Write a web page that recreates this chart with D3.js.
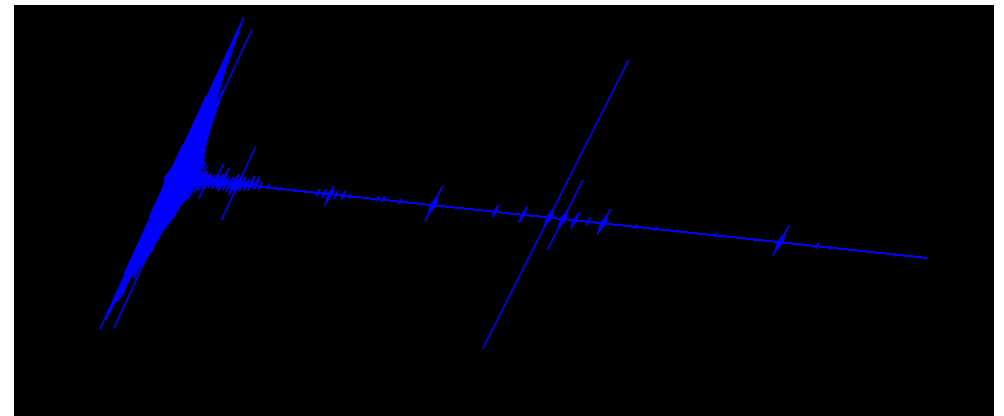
<!DOCTYPE html>
<html>
<head>
<meta charset="utf-8">
<script src="https://cdn.jsdelivr.net/npm/d3@7"></script>
<style>
  body { margin: 0; background: #fff; }
</style>
</head>
<body>
<div id="container"></div>
<script>
// spectrum bins along the baseline, levels above / below it
var bins = [3, 4, 5, 6, 7, 8, 9, 10, 11, 12, 13, 14, 15, 16, 17, 18, 19, 20, 21, 22,
            23, 24, 25, 26, 27, 28, 29, 30, 32, 35, 38, 42, 46, 50, 54, 57, 61, 65, 69, 73,
            77, 81, 85, 90, 95, 103, 115, 130, 153, 159, 165, 171, 178, 185, 212, 218, 235, 268, 330, 358,
            384, 398, 410, 423, 438, 470, 490, 512, 550, 590, 615, 652, 665, 730];
var upLevels = [20, 50, 99, 95, 90, 84, 78, 72, 66, 62, 58, 54, 50, 46, 55, 92, 48, 42, 37, 33,
                29, 25, 22, 19, 17, 15, 14, 12, 11, 9, 6, 5, 4, 11, 5, 9, 4, 4, 6, 23,
                5, 4, 6, 6, 2.5, 2, 1, 1, 2.5, 2.5, 5, 2.5, 3, 1.5, 2, 2, 1.5, 12, 4, 5,
                97, 24, 5, 2.5, 9, 1.5, 1.5, 1, 1.5, 1, 10.5, 2, 1, 1];
var downLevels = [25, 60, 94, 88, 84, 78, 72, 76, 74, 62, 57, 60, 62, 52, 55, 92, 48, 46, 38, 32,
                  30, 28, 26, 24, 19, 16, 14, 12, 12, 8, 6, 11, 4, 4, 4, 5, 4, 5, 7, 22,
                  4, 3, 3, 2, 2, 1, 1, 1, 2, 2.5, 7, 2.5, 2.5, 1.5, 1, 1, 1.5, 10, 3, 5,
                  81, 19, 5, 2, 7, 1, 1, 1, 1, 1, 8.5, 1.5, 1, 1];
var binRange = [0, 762];

var width = 1004,
    height = 416,
    svg, x, yBase, amp, skew, spread;

x = d3.scaleLinear().domain(binRange).range([165, 927]);
yBase = d3.scaleLinear().domain(binRange).range([176.6, 258]);
amp = d3.scaleLinear().domain([0, 100]).range([0, 162]);
skew = d3.scaleLinear().domain(binRange).range([0.46, 0.55]);
// half-width of the blob where a peak crosses the baseline
spread = d3.scaleLinear().domain([0, 10]).range([0.5, 3]).clamp(true);

function point(b, level) {
  var h = amp(level);
  return [x(b) + h * skew(b), yBase(b) - h];
}

svg = d3.select('#container').append('svg')
  .attr('width', width)
  .attr('height', height);

svg.append('rect')
  .attr('x', 14)
  .attr('y', 5)
  .attr('width', 980)
  .attr('height', 420)
  .attr('fill', '#000');

var line = d3.line()
  .x(function (d) { return d[0]; })
  .y(function (d) { return d[1]; });

// baseline
svg.append('path')
  .attr('d', line(binRange.map(function (b) { return point(b, 0); })))
  .attr('fill', 'none')
  .attr('stroke', '#0000ff')
  .attr('stroke-width', 2)
  .attr('shape-rendering', 'crispEdges');

var peaks = svg.selectAll('g.peak')
  .data(bins)
  .enter()
  .append('g')
  .attr('class', 'peak');

// the peak itself
peaks.append('path')
  .attr('d', function (b, i) {
    return line([point(b, -downLevels[i]), point(b, upLevels[i])]);
  })
  .attr('fill', 'none')
  .attr('stroke', '#0000ff')
  .attr('stroke-width', 1.6);

// small blob round the baseline crossing
peaks.append('path')
  .attr('d', function (b, i) {
    var w = spread(Math.max(upLevels[i], downLevels[i]));
    return line([
      point(b - w, 0),
      point(b, Math.min(upLevels[i], 6)),
      point(b + w, 0),
      point(b, -Math.min(downLevels[i], 6))
    ]) + 'Z';
  })
  .attr('fill', '#0000ff')
  .attr('stroke', '#0000ff')
  .attr('stroke-width', 1)
  .attr('stroke-linejoin', 'round');
</script>
</body>
</html>
